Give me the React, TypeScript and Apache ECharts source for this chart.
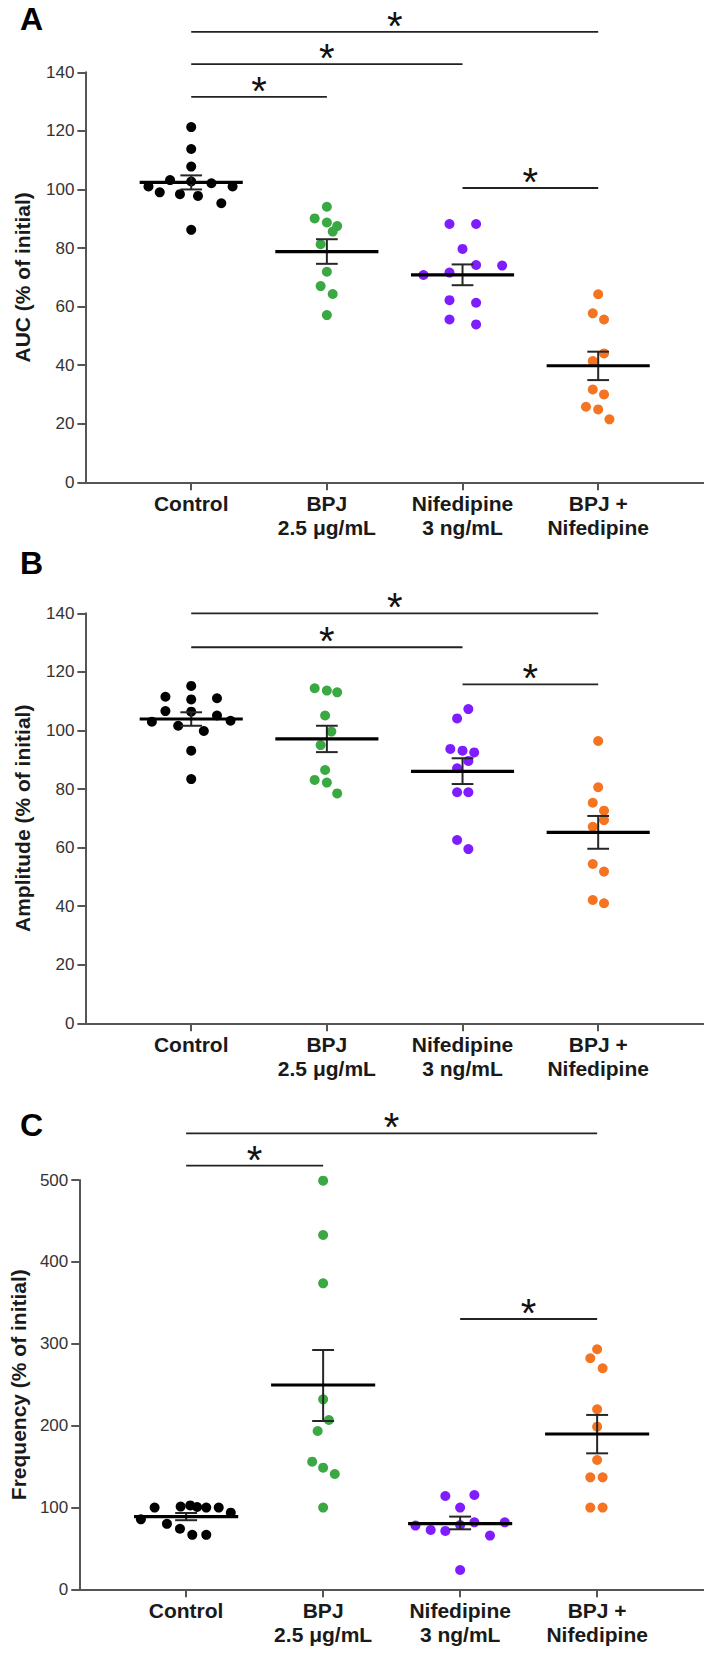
import React, { useEffect, useRef } from "react";
import * as echarts from "echarts";

const categories = ["Control", "BPJ\n2.5 μg/mL", "Nifedipine\n3 ng/mL", "BPJ +\nNifedipine"];
const groupColors = ["#000000", "#3aa843", "#7f1dff", "#f47421"];
const panelLetters = ["A", "B", "C"];
const yTitles = ["AUC (% of initial)", "Amplitude (% of initial)", "Frequency (% of initial)"];

// ---------- Panel A: AUC ----------
const aucControl = [121.3, 113.8, 107.8, 101.0, 99.0, 103.2, 98.4, 102.7, 97.8, 102.1, 95.3, 101.0, 86.2];
const aucControlOffset = [0, 0, 0, -0.315, -0.232, -0.156, -0.083, 0, 0.05, 0.149, 0.222, 0.305, 0];
const aucBPJ = [94.1, 90.1, 88.7, 87.5, 85.6, 81.3, 71.9, 67.0, 64.3, 57.1];
const aucBPJOffset = [0, -0.09, 0, 0.076, 0.043, -0.046, 0, -0.046, 0.043, 0];
const aucNif = [88.2, 88.2, 79.7, 70.8, 71.6, 74.2, 74.0, 62.2, 61.3, 55.6, 53.9];
const aucNifOffset = [-0.096, 0.1, 0, -0.288, -0.096, 0.1, 0.292, -0.096, 0.1, -0.096, 0.1];
const aucCombo = [64.2, 57.7, 55.6, 44.0, 41.4, 31.7, 30.0, 25.8, 24.9, 21.5];
const aucComboOffset = [0, -0.04, 0.043, 0.043, -0.04, -0.04, 0.043, -0.09, 0, 0.083];
const aucMean = [102.4, 78.8, 70.8, 39.8];
const aucSemHigh = [104.8, 83.0, 74.4, 44.6];
const aucSemLow = [100.0, 74.6, 67.3, 34.9];
const aucBrackets = [[1, 4, 153.8], [1, 3, 142.8], [1, 2, 131.6], [3, 4, 100.5]];

// ---------- Panel B: Amplitude ----------
const ampControl = [115.2, 111.5, 110.6, 111.0, 106.6, 106.4, 103.0, 105.1, 103.3, 101.6, 99.8, 93.1, 83.4];
const ampControlOffset = [0, -0.19, 0, 0.19, -0.19, 0, -0.29, 0.19, 0.29, -0.096, 0.093, 0, 0];
const ampBPJ = [114.4, 113.6, 113.0, 105.1, 99.6, 95.0, 86.5, 83.1, 82.2, 78.5];
const ampBPJOffset = [-0.09, 0, 0.076, -0.013, 0.033, -0.046, -0.013, -0.09, 0, 0.076];
const ampNif = [107.3, 104.1, 93.7, 93.1, 92.5, 89.6, 87.1, 78.9, 78.9, 62.6, 59.5];
const ampNifOffset = [0.043, -0.04, -0.09, 0, 0.086, 0.043, -0.04, -0.04, 0.043, -0.04, 0.043];
const ampCombo = [96.4, 80.6, 75.3, 72.6, 69.4, 67.1, 54.4, 51.8, 42.1, 41.0];
const ampComboOffset = [0, 0, -0.04, 0.043, 0.043, -0.04, -0.04, 0.043, -0.04, 0.043];
const ampMean = [103.9, 97.1, 86.0, 65.2];
const ampSemHigh = [106.2, 101.6, 90.5, 70.8];
const ampSemLow = [101.6, 92.6, 81.7, 59.6];
const ampBrackets = [[1, 4, 140.0], [1, 3, 128.4], [3, 4, 115.7]];

// ---------- Panel C: Frequency ----------
const freqControl = [99.8, 101.0, 102.5, 100.5, 99.8, 99.8, 93.6, 85.5, 80.0, 74.0, 66.5, 66.5];
const freqControlOffset = [-0.23, -0.04, 0.03, 0.08, 0.147, 0.238, 0.326, -0.33, -0.14, -0.045, 0.045, 0.147];
const freqBPJ = [499.2, 432.8, 373.8, 232.1, 206.8, 193.4, 155.9, 148.6, 140.9, 99.8];
const freqBPJOffset = [0, 0, 0, 0, 0.042, -0.04, -0.08, 0, 0.085, 0];
const freqNif = [114.0, 115.2, 99.8, 77.8, 72.5, 71.3, 78.6, 81.8, 81.8, 65.6, 23.6];
const freqNifOffset = [-0.108, 0.104, 0, -0.326, -0.215, -0.108, 0, 0.104, 0.326, 0.218, 0];
const freqCombo = [293.2, 282.2, 270.0, 219.9, 198.7, 158.0, 136.8, 136.8, 99.8, 99.8];
const freqComboOffset = [0, -0.05, 0.04, 0, 0, 0, -0.05, 0.04, -0.05, 0.04];
const freqMean = [88.8, 249.6, 80.2, 189.7];
const freqSemHigh = [93.2, 292.3, 88.8, 213.0];
const freqSemLow = [84.4, 205.6, 73.3, 166.1];
const freqBrackets = [[1, 4, 557.0], [1, 2, 517.5], [3, 4, 330.2]];

const yTicks = [
  { max: 140, interval: 20 },
  { max: 140, interval: 20 },
  { max: 500, interval: 100 },
];

const FONT = "'Liberation Sans', Arial, Helvetica, sans-serif";

const panels = [
  {
    groups: [
      [aucControl, aucControlOffset],
      [aucBPJ, aucBPJOffset],
      [aucNif, aucNifOffset],
      [aucCombo, aucComboOffset],
    ],
    mean: aucMean, hi: aucSemHigh, lo: aucSemLow, brackets: aucBrackets,
  },
  {
    groups: [
      [ampControl, ampControlOffset],
      [ampBPJ, ampBPJOffset],
      [ampNif, ampNifOffset],
      [ampCombo, ampComboOffset],
    ],
    mean: ampMean, hi: ampSemHigh, lo: ampSemLow, brackets: ampBrackets,
  },
  {
    groups: [
      [freqControl, freqControlOffset],
      [freqBPJ, freqBPJOffset],
      [freqNif, freqNifOffset],
      [freqCombo, freqComboOffset],
    ],
    mean: freqMean, hi: freqSemHigh, lo: freqSemLow, brackets: freqBrackets,
  },
];

const grids = [
  { left: 85.4, top: 72.3, width: 618.6, height: 410 },
  { left: 85.4, top: 613.3, width: 618.6, height: 410 },
  { left: 74.5, top: 1180, width: 629.5, height: 409.3 },
];
const letterTops = [3, 547, 1109];
const nameGaps = [52, 52, 50];

function meanRender(params: any, api: any) {
  const x = api.value(0);
  const m = api.value(1);
  const lo = api.value(2);
  const hi = api.value(3);
  const a = api.coord([x - 0.38, m]);
  const b = api.coord([x + 0.38, m]);
  const top = api.coord([x, hi]);
  const bot = api.coord([x, lo]);
  const unit = (b[0] - a[0]) / 0.76;
  const cw = 0.08 * unit;
  const errStyle = { stroke: "#262626", lineWidth: 2 };
  return {
    type: "group",
    children: [
      { type: "line", shape: { x1: top[0], y1: top[1], x2: bot[0], y2: bot[1] }, style: errStyle },
      { type: "line", shape: { x1: top[0] - cw, y1: top[1], x2: top[0] + cw, y2: top[1] }, style: errStyle },
      { type: "line", shape: { x1: bot[0] - cw, y1: bot[1], x2: bot[0] + cw, y2: bot[1] }, style: errStyle },
      { type: "line", shape: { x1: a[0], y1: a[1], x2: b[0], y2: b[1] }, style: { stroke: "#000", lineWidth: 3.2 } },
    ],
  };
}

function bracketRender(params: any, api: any) {
  const x1 = api.value(0);
  const x2 = api.value(1);
  const y = api.value(2);
  const p1 = api.coord([x1, y]);
  const p2 = api.coord([x2, y]);
  return {
    type: "group",
    children: [
      { type: "line", shape: { x1: p1[0], y1: p1[1], x2: p2[0], y2: p2[1] }, style: { stroke: "#222", lineWidth: 1.8 } },
      {
        type: "text",
        x: (p1[0] + p2[0]) / 2,
        y: p1[1] - 6,
        style: {
          text: "*",
          fill: "#111",
          fontSize: 40,
          fontFamily: FONT,
          align: "center",
          verticalAlign: "middle",
        },
      },
    ],
  };
}

export default function App() {
  const ref = useRef<HTMLDivElement>(null);

  useEffect(() => {
    document.body.style.margin = "0";
    if (!ref.current) return;
    const chart = echarts.init(ref.current, null, { renderer: "svg" });

    const xAxis = grids.map((_, i) => ({
      type: "value",
      gridIndex: i,
      min: 0.22,
      max: 4.78,
      splitLine: { show: false },
      axisLine: { show: true, lineStyle: { color: "#555", width: 2 } },
      axisTick: { show: true, customValues: [1, 2, 3, 4], length: 8, lineStyle: { color: "#555", width: 2 } },
      axisLabel: {
        customValues: [1, 2, 3, 4],
        formatter: (v: number) => {
          const k = Math.round(v);
          return Math.abs(v - k) < 1e-6 && k >= 1 && k <= 4 ? categories[k - 1] : "";
        },
        fontSize: 21,
        fontWeight: "bold",
        fontFamily: FONT,
        color: "#1a1a1a",
        lineHeight: 24,
        margin: 9,
      },
    }));

    const yAxis = grids.map((_, i) => ({
      type: "value",
      gridIndex: i,
      min: 0,
      max: yTicks[i].max,
      interval: yTicks[i].interval,
      name: yTitles[i],
      nameLocation: "middle",
      nameGap: nameGaps[i],
      nameTextStyle: { fontSize: 21, fontWeight: "bold", fontFamily: FONT, color: "#1a1a1a" },
      splitLine: { show: false },
      axisLine: { show: true, lineStyle: { color: "#555", width: 2 } },
      axisTick: { show: true, length: 8, lineStyle: { color: "#555", width: 2 } },
      axisLabel: { fontSize: 17, fontFamily: FONT, color: "#333", margin: 11 },
    }));

    const series: any[] = [];
    panels.forEach((p, pi) => {
      p.groups.forEach(([vals, offs], gi) => {
        series.push({
          type: "scatter",
          xAxisIndex: pi,
          yAxisIndex: pi,
          symbol: "circle",
          symbolSize: 10,
          clip: false,
          itemStyle: { color: groupColors[gi], opacity: 1 },
          data: (vals as number[]).map((v, k) => [gi + 1 + (offs as number[])[k], v]),
          z: 2,
        });
      });
      series.push({
        type: "custom",
        xAxisIndex: pi,
        yAxisIndex: pi,
        renderItem: meanRender,
        data: p.mean.map((m, k) => [k + 1, m, p.lo[k], p.hi[k]]),
        z: 5,
      });
      series.push({
        type: "custom",
        xAxisIndex: pi,
        yAxisIndex: pi,
        renderItem: bracketRender,
        clip: false,
        data: p.brackets,
        z: 5,
      });
    });

    chart.setOption({
      animation: false,
      backgroundColor: "#fff",
      grid: grids,
      xAxis,
      yAxis,
      series,
      graphic: panelLetters.map((t, i) => ({
        type: "text",
        left: 20,
        top: letterTops[i],
        style: { text: t, fontSize: 32, fontWeight: "bold", fontFamily: FONT, fill: "#000" },
      })),
    });

    return () => chart.dispose();
  }, []);

  return <div ref={ref} style={{ width: 704, height: 1654 }} />;
}
